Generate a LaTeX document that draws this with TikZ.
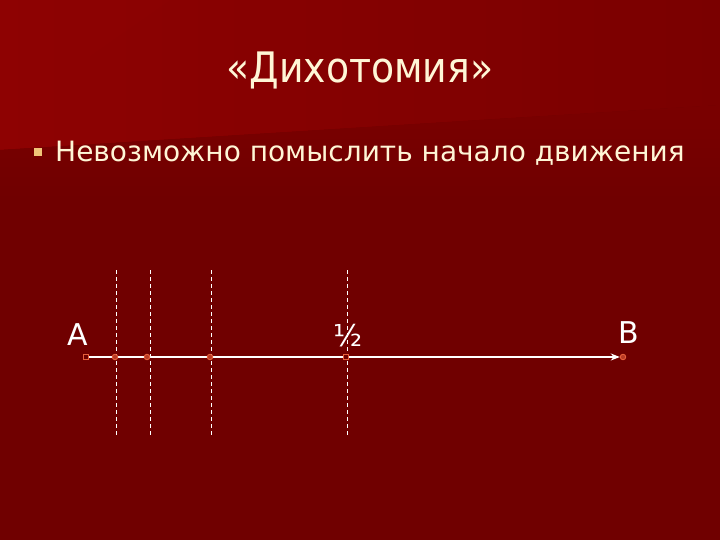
\documentclass[tikz,border=0pt]{standalone}
\usepackage{fontspec}
\setmainfont{DejaVu Sans}
\newfontfamily\condfont{DejaVu Sans Condensed}
\usetikzlibrary{arrows.meta,backgrounds}
\definecolor{bgtop}{RGB}{142,2,2}
\definecolor{bgmid}{RGB}{122,0,0}
\definecolor{bgbot}{RGB}{112,0,0}
\definecolor{cream}{RGB}{255,246,214}
\definecolor{bulletc}{RGB}{240,196,120}
\definecolor{mark}{RGB}{230,95,60}
\tikzset{
  dash line/.style={white, line width=0.6pt, dash pattern=on 4pt off 3pt},
  sqmark/.style={draw=mark, fill=bgbot, line width=0.9pt, minimum size=5.5pt, inner sep=0pt, rectangle},
  cmark/.style={draw=mark, fill=mark!60!bgbot, line width=0.9pt, minimum size=5.5pt, inner sep=0pt, circle},
  lbl/.style={text=white, font=\fontsize{30}{34}\selectfont, inner sep=0pt}
}
\begin{document}
\begin{tikzpicture}[x=1pt,y=-1pt]
\useasboundingbox (0,0) rectangle (720,540);
% title
\node[text=cream, font=\condfont\fontsize{42}{48}\selectfont, inner sep=0pt] (title) at (360,70) {«Дихотомия»};
% bullet
\node[fill=bulletc, minimum size=8pt, inner sep=0pt] (bul) at (37.5,152.5) {};
\node[anchor=west, text=cream, font=\fontsize{28}{32}\selectfont, inner sep=0pt] (btext) at (55,153) {Невозможно помыслить начало движения};
% points
\node[sqmark] (A) at (86,357) {};
\node[cmark] (p1) at (115,357) {};
\node[cmark] (p2) at (147,357) {};
\node[cmark] (p3) at (210,357) {};
\node[sqmark] (H) at (346,357) {};
\node[cmark] (B) at (623,357) {};
% labels
\node[lbl] (la) at (78,335) {A};
\node[lbl] (lh) at (348,336) {½};
\node[lbl] (lb) at (629,333) {B};
\begin{scope}[on background layer]
\fill[bgbot] (0,0) rectangle (720,540);
\shade[left color=bgtop, right color=bgmid] (0,0) -- (720,0) -- (720,105) -- (0,150) -- cycle;
\shade[top color=bgmid, bottom color=bgbot] (0,150) -- (720,105) -- (720,200) -- (0,200) -- cycle;
\fill[bgtop, opacity=0.35] (0,0) -- (170,0) -- (0,120) -- cycle;
\foreach \n/\x in {d1/116,d2/150,d3/211,d4/347}{
  \coordinate (\n t) at (\x,270);
  \coordinate (\n b) at (\x,435);
  \draw[dash line] (\n t) -- (\n b);
}
\draw[white, line width=1.4pt, -{Stealth[length=9pt,width=7pt]}] (A.center) -- (B.west);
\end{scope}
\end{tikzpicture}
\end{document}
